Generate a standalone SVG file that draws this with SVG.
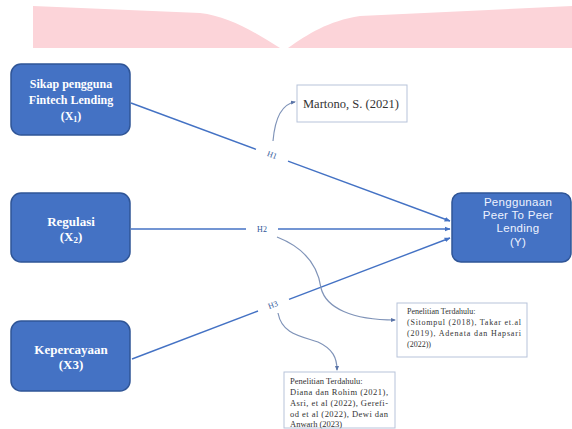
<svg xmlns="http://www.w3.org/2000/svg" width="572" height="429" viewBox="0 0 572 429">
<defs>
<style>
.node rect{fill:#4472c4;stroke:#2f5597;stroke-width:1.5}
.nt{font-family:"Liberation Serif","Times New Roman",serif;font-weight:bold;fill:#ffffff;text-anchor:middle}
.yt{font-family:"Liberation Sans",Arial,sans-serif;fill:#eef2ff;text-anchor:middle;font-size:11.5px;letter-spacing:0.3px}
.main{stroke:#4472c4;stroke-width:1.4;fill:none}
.curve{stroke:#7f93b8;stroke-width:1.2;fill:none}
.hl{font-family:"Liberation Serif","Times New Roman",serif;font-size:8px;fill:#2f5597;text-anchor:middle;dominant-baseline:central}
.box{fill:#ffffff;stroke:#b7c3da;stroke-width:1}
.ref{font-family:"Liberation Serif","Times New Roman",serif;fill:#333333}
</style>
<marker id="arr" viewBox="0 0 10 10" refX="9" refY="5" markerWidth="6" markerHeight="6" orient="auto" markerUnits="userSpaceOnUse">
<path d="M0,1 L10,5 L0,9 Z" fill="#4472c4"/>
</marker>
<marker id="arr2" viewBox="0 0 10 10" refX="8" refY="5" markerWidth="5" markerHeight="5" orient="auto" markerUnits="userSpaceOnUse">
<path d="M0,1 L10,5 L0,9 Z" fill="#5a74a8"/>
</marker>
</defs>
<rect x="0" y="0" width="572" height="429" fill="#ffffff"/>
<path id="banner" d="M33,6 L200,13 C228,16 255,32 280,48 L288,48 C308,34 328,21 360,16 L572,6 L572,48 L33,48 Z" fill="#fcd4d9"/>

<g id="connectors">
<path class="main" d="M131,103 L256,149.3"/>
<path class="main" d="M288,161.1 L450,221" marker-end="url(#arr)"/>
<path class="main" d="M131,229 L246,229"/>
<path class="main" d="M278,229 L450,229" marker-end="url(#arr)"/>
<path class="main" d="M132,359 L258,311"/>
<path class="main" d="M289,299.3 L450,238" marker-end="url(#arr)"/>
<path class="curve" d="M273,141 C275,118 282,104 295,102" marker-end="url(#arr2)"/>
<path class="curve" d="M277,237 C305,248 318,266 321,288 C326,308 352,320 395,320" marker-end="url(#arr2)"/>
<path class="curve" d="M278,313 C282,334 300,336 318,342 C333,349 337,358 337,370" marker-end="url(#arr2)"/>
<text class="hl" transform="translate(272,155) rotate(20.3)">H1</text>
<text class="hl" x="262" y="229">H2</text>
<text class="hl" transform="translate(273,305) rotate(-20.8)">H3</text>
</g>

<g id="x1" class="node">
<rect x="11" y="64" width="119" height="71" rx="10"/>
<text class="nt" font-size="12" x="71" y="88">Sikap pengguna</text>
<text class="nt" font-size="12" x="71" y="104">Fintech Lending</text>
<text class="nt" font-size="12" x="71" y="120">(X<tspan font-size="8" dy="2">1</tspan><tspan dy="-2">)</tspan></text>
</g>

<g id="x2" class="node">
<rect x="11" y="193" width="119" height="69" rx="10"/>
<text class="nt" font-size="13" x="71" y="226">Regulasi</text>
<text class="nt" font-size="13" x="71" y="241">(X<tspan font-size="9" dy="2">2</tspan><tspan dy="-2">)</tspan></text>
</g>

<g id="x3" class="node">
<rect x="11" y="321" width="119" height="70" rx="10"/>
<text class="nt" font-size="13" x="71" y="354">Kepercayaan</text>
<text class="nt" font-size="13" x="71" y="369">(X3)</text>
</g>

<g id="y" class="node">
<rect x="452" y="193" width="119" height="69" rx="9"/>
<text class="yt" x="518" y="206">Penggunaan</text>
<text class="yt" x="518" y="219.2">Peer To Peer</text>
<text class="yt" x="518" y="232.4">Lending</text>
<text class="yt" x="518" y="245.6">(Y)</text>
</g>

<g id="martono">
<rect class="box" x="297" y="85" width="110" height="37"/>
<text class="ref" font-size="12.5" x="303" y="108">Martono, S. (2021)</text>
</g>

<g id="penelitian1">
<rect class="box" x="397" y="303" width="130" height="54"/>
<text class="ref" font-size="8" x="407" y="314">Penelitian Terdahulu:</text>
<text class="ref" font-size="8" x="407" y="325" textLength="114" lengthAdjust="spacing">(Sitompul (2018), Takar et.al</text>
<text class="ref" font-size="8" x="407" y="336" textLength="114" lengthAdjust="spacing">(2019), Adenata dan Hapsari</text>
<text class="ref" font-size="8" x="407" y="347">(2022))</text>
</g>

<g id="penelitian2">
<rect class="box" x="284" y="372" width="111" height="56"/>
<text class="ref" font-size="8.5" x="290" y="384">Penelitian Terdahulu:</text>
<text class="ref" font-size="8.5" x="290" y="395" textLength="98" lengthAdjust="spacing">Diana dan Rohim (2021),</text>
<text class="ref" font-size="8.5" x="290" y="406" textLength="98" lengthAdjust="spacing">Asri, et al (2022), Gerefi-</text>
<text class="ref" font-size="8.5" x="290" y="417" textLength="98" lengthAdjust="spacing">od et al (2022), Dewi dan</text>
<text class="ref" font-size="8.5" x="290" y="427">Anwarh (2023)</text>
</g>
</svg>
